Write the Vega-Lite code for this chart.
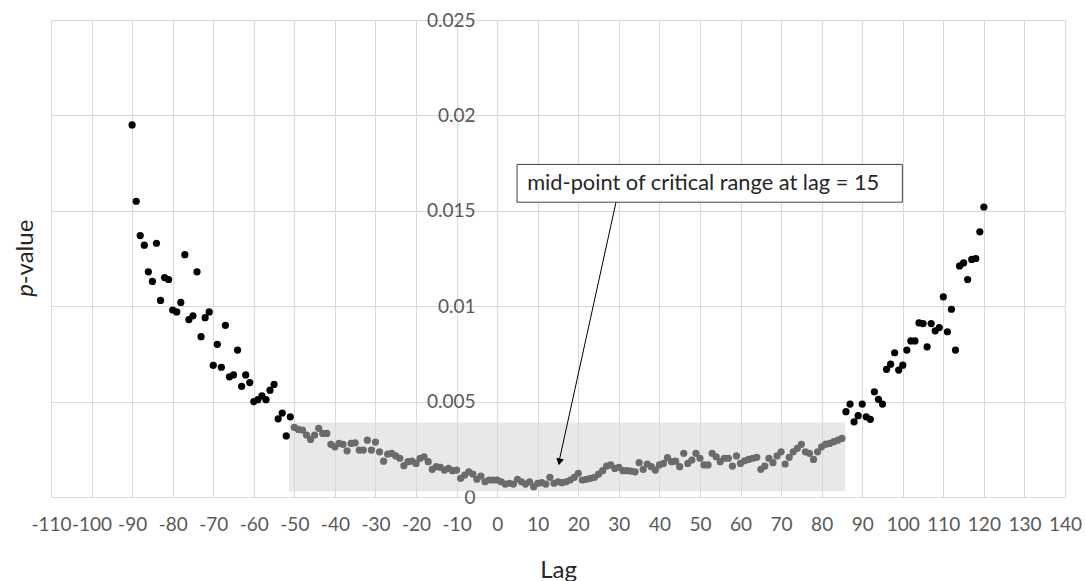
{
  "$schema": "https://vega.github.io/schema/vega-lite/v6.json",
  "width": 1014,
  "height": 477,
  "autosize": "none",
  "padding": {"left": 51, "top": 20, "right": 21, "bottom": 84},
  "background": "white",
  "config": {
    "view": {"stroke": null},
    "font": "Lato",
    "axis": {
      "labelFont": "Lato",
      "labelColor": "#595959",
      "labelFontSize": 19,
      "titleFont": "Lato",
      "titleColor": "#262626",
      "titleFontSize": 24,
      "titleFontWeight": "normal",
      "gridColor": "#d9d9d9",
      "gridWidth": 1,
      "domain": false,
      "ticks": false
    }
  },
  "datasets": {
    "pts": [
      {"lag": -90, "p": 0.0195, "zone": "outside"},
      {"lag": -89, "p": 0.0155, "zone": "outside"},
      {"lag": -88, "p": 0.0137, "zone": "outside"},
      {"lag": -87, "p": 0.0132, "zone": "outside"},
      {"lag": -86, "p": 0.0118, "zone": "outside"},
      {"lag": -85, "p": 0.0113, "zone": "outside"},
      {"lag": -84, "p": 0.0133, "zone": "outside"},
      {"lag": -83, "p": 0.0103, "zone": "outside"},
      {"lag": -82, "p": 0.0115, "zone": "outside"},
      {"lag": -81, "p": 0.0114, "zone": "outside"},
      {"lag": -80, "p": 0.0098, "zone": "outside"},
      {"lag": -79, "p": 0.0097, "zone": "outside"},
      {"lag": -78, "p": 0.0102, "zone": "outside"},
      {"lag": -77, "p": 0.0127, "zone": "outside"},
      {"lag": -76, "p": 0.0093, "zone": "outside"},
      {"lag": -75, "p": 0.0095, "zone": "outside"},
      {"lag": -74, "p": 0.0118, "zone": "outside"},
      {"lag": -73, "p": 0.0084, "zone": "outside"},
      {"lag": -72, "p": 0.0094, "zone": "outside"},
      {"lag": -71, "p": 0.0097, "zone": "outside"},
      {"lag": -70, "p": 0.0069, "zone": "outside"},
      {"lag": -69, "p": 0.008, "zone": "outside"},
      {"lag": -68, "p": 0.0068, "zone": "outside"},
      {"lag": -67, "p": 0.009, "zone": "outside"},
      {"lag": -66, "p": 0.0063, "zone": "outside"},
      {"lag": -65, "p": 0.0064, "zone": "outside"},
      {"lag": -64, "p": 0.0077, "zone": "outside"},
      {"lag": -63, "p": 0.0058, "zone": "outside"},
      {"lag": -62, "p": 0.0064, "zone": "outside"},
      {"lag": -61, "p": 0.006, "zone": "outside"},
      {"lag": -60, "p": 0.005, "zone": "outside"},
      {"lag": -59, "p": 0.0051, "zone": "outside"},
      {"lag": -58, "p": 0.0053, "zone": "outside"},
      {"lag": -57, "p": 0.0051, "zone": "outside"},
      {"lag": -56, "p": 0.0056, "zone": "outside"},
      {"lag": -55, "p": 0.0059, "zone": "outside"},
      {"lag": -54, "p": 0.0041, "zone": "outside"},
      {"lag": -53, "p": 0.0044, "zone": "outside"},
      {"lag": -52, "p": 0.0032, "zone": "outside"},
      {"lag": -51, "p": 0.0042, "zone": "outside"},
      {"lag": -50, "p": 0.00365, "zone": "critical"},
      {"lag": -49, "p": 0.00354, "zone": "critical"},
      {"lag": -48, "p": 0.00351, "zone": "critical"},
      {"lag": -47, "p": 0.00325, "zone": "critical"},
      {"lag": -46, "p": 0.00302, "zone": "critical"},
      {"lag": -45, "p": 0.00325, "zone": "critical"},
      {"lag": -44, "p": 0.0036, "zone": "critical"},
      {"lag": -43, "p": 0.00333, "zone": "critical"},
      {"lag": -42, "p": 0.00333, "zone": "critical"},
      {"lag": -41, "p": 0.00276, "zone": "critical"},
      {"lag": -40, "p": 0.00263, "zone": "critical"},
      {"lag": -39, "p": 0.00281, "zone": "critical"},
      {"lag": -38, "p": 0.00276, "zone": "critical"},
      {"lag": -37, "p": 0.00242, "zone": "critical"},
      {"lag": -36, "p": 0.00281, "zone": "critical"},
      {"lag": -35, "p": 0.00284, "zone": "critical"},
      {"lag": -34, "p": 0.00246, "zone": "critical"},
      {"lag": -33, "p": 0.00246, "zone": "critical"},
      {"lag": -32, "p": 0.00298, "zone": "critical"},
      {"lag": -31, "p": 0.00246, "zone": "critical"},
      {"lag": -30, "p": 0.00288, "zone": "critical"},
      {"lag": -29, "p": 0.00237, "zone": "critical"},
      {"lag": -28, "p": 0.00188, "zone": "critical"},
      {"lag": -27, "p": 0.00225, "zone": "critical"},
      {"lag": -26, "p": 0.00229, "zone": "critical"},
      {"lag": -25, "p": 0.00215, "zone": "critical"},
      {"lag": -24, "p": 0.00203, "zone": "critical"},
      {"lag": -23, "p": 0.00164, "zone": "critical"},
      {"lag": -22, "p": 0.00185, "zone": "critical"},
      {"lag": -21, "p": 0.00188, "zone": "critical"},
      {"lag": -20, "p": 0.00176, "zone": "critical"},
      {"lag": -19, "p": 0.00203, "zone": "critical"},
      {"lag": -18, "p": 0.00211, "zone": "critical"},
      {"lag": -17, "p": 0.00185, "zone": "critical"},
      {"lag": -16, "p": 0.00145, "zone": "critical"},
      {"lag": -15, "p": 0.00159, "zone": "critical"},
      {"lag": -14, "p": 0.00156, "zone": "critical"},
      {"lag": -13, "p": 0.00141, "zone": "critical"},
      {"lag": -12, "p": 0.0015, "zone": "critical"},
      {"lag": -11, "p": 0.00138, "zone": "critical"},
      {"lag": -10, "p": 0.00141, "zone": "critical"},
      {"lag": -9, "p": 0.00098, "zone": "critical"},
      {"lag": -8, "p": 0.00115, "zone": "critical"},
      {"lag": -7, "p": 0.00132, "zone": "critical"},
      {"lag": -6, "p": 0.0012, "zone": "critical"},
      {"lag": -5, "p": 0.00093, "zone": "critical"},
      {"lag": -4, "p": 0.0011, "zone": "critical"},
      {"lag": -3, "p": 0.0008, "zone": "critical"},
      {"lag": -2, "p": 0.00089, "zone": "critical"},
      {"lag": -1, "p": 0.00089, "zone": "critical"},
      {"lag": 0, "p": 0.00089, "zone": "critical"},
      {"lag": 1, "p": 0.0008, "zone": "critical"},
      {"lag": 2, "p": 0.00068, "zone": "critical"},
      {"lag": 3, "p": 0.00072, "zone": "critical"},
      {"lag": 4, "p": 0.00068, "zone": "critical"},
      {"lag": 5, "p": 0.00093, "zone": "critical"},
      {"lag": 6, "p": 0.0008, "zone": "critical"},
      {"lag": 7, "p": 0.00068, "zone": "critical"},
      {"lag": 8, "p": 0.0008, "zone": "critical"},
      {"lag": 9, "p": 0.00054, "zone": "critical"},
      {"lag": 10, "p": 0.00072, "zone": "critical"},
      {"lag": 11, "p": 0.00075, "zone": "critical"},
      {"lag": 12, "p": 0.00068, "zone": "critical"},
      {"lag": 13, "p": 0.00103, "zone": "critical"},
      {"lag": 14, "p": 0.00072, "zone": "critical"},
      {"lag": 15, "p": 0.0008, "zone": "critical"},
      {"lag": 16, "p": 0.00075, "zone": "critical"},
      {"lag": 17, "p": 0.0008, "zone": "critical"},
      {"lag": 18, "p": 0.00089, "zone": "critical"},
      {"lag": 19, "p": 0.00103, "zone": "critical"},
      {"lag": 20, "p": 0.00124, "zone": "critical"},
      {"lag": 21, "p": 0.00089, "zone": "critical"},
      {"lag": 22, "p": 0.00093, "zone": "critical"},
      {"lag": 23, "p": 0.00098, "zone": "critical"},
      {"lag": 24, "p": 0.00103, "zone": "critical"},
      {"lag": 25, "p": 0.0012, "zone": "critical"},
      {"lag": 26, "p": 0.00138, "zone": "critical"},
      {"lag": 27, "p": 0.00162, "zone": "critical"},
      {"lag": 28, "p": 0.00168, "zone": "critical"},
      {"lag": 29, "p": 0.0015, "zone": "critical"},
      {"lag": 30, "p": 0.00156, "zone": "critical"},
      {"lag": 31, "p": 0.00138, "zone": "critical"},
      {"lag": 32, "p": 0.00138, "zone": "critical"},
      {"lag": 33, "p": 0.00136, "zone": "critical"},
      {"lag": 34, "p": 0.00132, "zone": "critical"},
      {"lag": 35, "p": 0.0018, "zone": "critical"},
      {"lag": 36, "p": 0.00145, "zone": "critical"},
      {"lag": 37, "p": 0.00173, "zone": "critical"},
      {"lag": 38, "p": 0.00159, "zone": "critical"},
      {"lag": 39, "p": 0.00141, "zone": "critical"},
      {"lag": 40, "p": 0.00168, "zone": "critical"},
      {"lag": 41, "p": 0.00176, "zone": "critical"},
      {"lag": 42, "p": 0.00206, "zone": "critical"},
      {"lag": 43, "p": 0.00185, "zone": "critical"},
      {"lag": 44, "p": 0.00188, "zone": "critical"},
      {"lag": 45, "p": 0.00159, "zone": "critical"},
      {"lag": 46, "p": 0.00229, "zone": "critical"},
      {"lag": 47, "p": 0.00176, "zone": "critical"},
      {"lag": 48, "p": 0.00194, "zone": "critical"},
      {"lag": 49, "p": 0.00229, "zone": "critical"},
      {"lag": 50, "p": 0.00203, "zone": "critical"},
      {"lag": 51, "p": 0.00168, "zone": "critical"},
      {"lag": 52, "p": 0.00168, "zone": "critical"},
      {"lag": 53, "p": 0.00229, "zone": "critical"},
      {"lag": 54, "p": 0.00211, "zone": "critical"},
      {"lag": 55, "p": 0.00185, "zone": "critical"},
      {"lag": 56, "p": 0.00203, "zone": "critical"},
      {"lag": 57, "p": 0.00203, "zone": "critical"},
      {"lag": 58, "p": 0.00162, "zone": "critical"},
      {"lag": 59, "p": 0.00215, "zone": "critical"},
      {"lag": 60, "p": 0.00176, "zone": "critical"},
      {"lag": 61, "p": 0.0019, "zone": "critical"},
      {"lag": 62, "p": 0.00197, "zone": "critical"},
      {"lag": 63, "p": 0.00203, "zone": "critical"},
      {"lag": 64, "p": 0.00208, "zone": "critical"},
      {"lag": 65, "p": 0.00145, "zone": "critical"},
      {"lag": 66, "p": 0.00162, "zone": "critical"},
      {"lag": 67, "p": 0.00203, "zone": "critical"},
      {"lag": 68, "p": 0.0018, "zone": "critical"},
      {"lag": 69, "p": 0.00215, "zone": "critical"},
      {"lag": 70, "p": 0.00237, "zone": "critical"},
      {"lag": 71, "p": 0.00173, "zone": "critical"},
      {"lag": 72, "p": 0.00208, "zone": "critical"},
      {"lag": 73, "p": 0.00237, "zone": "critical"},
      {"lag": 74, "p": 0.00255, "zone": "critical"},
      {"lag": 75, "p": 0.00276, "zone": "critical"},
      {"lag": 76, "p": 0.00237, "zone": "critical"},
      {"lag": 77, "p": 0.00229, "zone": "critical"},
      {"lag": 78, "p": 0.00197, "zone": "critical"},
      {"lag": 79, "p": 0.00237, "zone": "critical"},
      {"lag": 80, "p": 0.00263, "zone": "critical"},
      {"lag": 81, "p": 0.00277, "zone": "critical"},
      {"lag": 82, "p": 0.00281, "zone": "critical"},
      {"lag": 83, "p": 0.0029, "zone": "critical"},
      {"lag": 84, "p": 0.00298, "zone": "critical"},
      {"lag": 85, "p": 0.00307, "zone": "critical"},
      {"lag": 86, "p": 0.00447, "zone": "outside"},
      {"lag": 87, "p": 0.00487, "zone": "outside"},
      {"lag": 88, "p": 0.00394, "zone": "outside"},
      {"lag": 89, "p": 0.00426, "zone": "outside"},
      {"lag": 90, "p": 0.00487, "zone": "outside"},
      {"lag": 91, "p": 0.0042, "zone": "outside"},
      {"lag": 92, "p": 0.00407, "zone": "outside"},
      {"lag": 93, "p": 0.00551, "zone": "outside"},
      {"lag": 94, "p": 0.00512, "zone": "outside"},
      {"lag": 95, "p": 0.00487, "zone": "outside"},
      {"lag": 96, "p": 0.00669, "zone": "outside"},
      {"lag": 97, "p": 0.00696, "zone": "outside"},
      {"lag": 98, "p": 0.00756, "zone": "outside"},
      {"lag": 99, "p": 0.00665, "zone": "outside"},
      {"lag": 100, "p": 0.00691, "zone": "outside"},
      {"lag": 101, "p": 0.0077, "zone": "outside"},
      {"lag": 102, "p": 0.00818, "zone": "outside"},
      {"lag": 103, "p": 0.00818, "zone": "outside"},
      {"lag": 104, "p": 0.00913, "zone": "outside"},
      {"lag": 105, "p": 0.00909, "zone": "outside"},
      {"lag": 106, "p": 0.00787, "zone": "outside"},
      {"lag": 107, "p": 0.00909, "zone": "outside"},
      {"lag": 108, "p": 0.00871, "zone": "outside"},
      {"lag": 109, "p": 0.00888, "zone": "outside"},
      {"lag": 110, "p": 0.01049, "zone": "outside"},
      {"lag": 111, "p": 0.00866, "zone": "outside"},
      {"lag": 112, "p": 0.00984, "zone": "outside"},
      {"lag": 113, "p": 0.0077, "zone": "outside"},
      {"lag": 114, "p": 0.01211, "zone": "outside"},
      {"lag": 115, "p": 0.01227, "zone": "outside"},
      {"lag": 116, "p": 0.0114, "zone": "outside"},
      {"lag": 117, "p": 0.01245, "zone": "outside"},
      {"lag": 118, "p": 0.0125, "zone": "outside"},
      {"lag": 119, "p": 0.0139, "zone": "outside"},
      {"lag": 120, "p": 0.0152, "zone": "outside"}
    ]
  },
  "layer": [
    {
      "data": {"values": [{"label": "critical range"}]},
      "mark": {"type": "rect", "fill": "#d9d9d9", "opacity": 0.6},
      "encoding": {
        "x": {"datum": -51.3, "type": "quantitative", "scale": {"domain": [-110, 140], "nice": false, "zero": false}},
        "x2": {"datum": 85.8},
        "y": {"datum": 0.0003, "type": "quantitative", "scale": {"domain": [0, 0.025], "nice": false},
          "axis": {"orient": "left", "title": "-value", "titleY": 231.5, "labels": false, "grid": false, "ticks": false, "domain": false, "titlePadding": 14}},
        "y2": {"datum": 0.0039}
      }
    },
    {
      "data": {"name": "pts"},
      "mark": {"type": "point", "filled": true, "opacity": 1, "size": 52, "shape": "circle"},
      "encoding": {
        "x": {"field": "lag", "type": "quantitative", "scale": {"domain": [-110, 140], "nice": false, "zero": false},
          "axis": {"title": "Lag", "values": [-110, -100, -90, -80, -70, -60, -50, -40, -30, -20, -10, 0, 10, 20, 30, 40, 50, 60, 70, 80, 90, 100, 110, 120, 130, 140],
            "labelExpr": "'' + datum.value",
            "labelOverlap": false, "labelBound": false, "labelFlush": false, "labelPadding": 18, "titlePadding": 24, "grid": true}},
        "y": {"field": "p", "type": "quantitative", "scale": {"domain": [0, 0.025], "nice": false},
          "axis": {"orient": "left", "title": null, "values": [0, 0.005, 0.01, 0.015, 0.02, 0.025], "format": "~g", "offset": -446, "labelPadding": 22, "grid": true, "labelBound": false, "labelFlush": false}},
        "color": {"field": "zone", "type": "nominal", "scale": {"domain": ["outside", "critical"], "range": ["#000000", "#6b6b6b"]}, "legend": null}
      }
    },
    {
      "data": {"values": [{"label": "annotation"}]},
      "mark": {"type": "rule", "color": "#000000", "strokeWidth": 1},
      "encoding": {
        "x": {"datum": 29.3, "type": "quantitative"},
        "y": {"datum": 0.01545, "type": "quantitative",
          "axis": {"orient": "left", "title": "p", "titleFontStyle": "italic", "titleY": 269.8, "labels": false, "grid": false, "ticks": false, "domain": false, "titlePadding": 14}},
        "x2": {"datum": 15.3},
        "y2": {"datum": 0.0019}
      }
    },
    {
      "data": {"values": [{"label": "annotation"}]},
      "mark": {"type": "point", "shape": "triangle-down", "filled": true, "color": "#000000", "opacity": 1, "size": 60, "angle": 12.4},
      "encoding": {
        "x": {"datum": 15.35, "type": "quantitative"},
        "y": {"datum": 0.00184, "type": "quantitative", "axis": null}
      }
    },
    {
      "data": {"values": [{"label": "annotation"}]},
      "mark": {"type": "rect", "fill": "#ffffff", "stroke": "#404040", "strokeWidth": 1},
      "encoding": {
        "x": {"datum": 4.9, "type": "quantitative"},
        "x2": {"datum": 99.9},
        "y": {"datum": 0.01545, "type": "quantitative", "axis": null},
        "y2": {"datum": 0.01743}
      }
    },
    {
      "data": {"values": [{"label": "mid-point of critical range at lag = 15"}]},
      "mark": {"type": "text", "align": "left", "baseline": "middle", "font": "Lato", "fontSize": 21.8, "color": "#262626"},
      "encoding": {
        "x": {"datum": 7.4, "type": "quantitative"},
        "y": {"datum": 0.01644, "type": "quantitative", "axis": null},
        "text": {"field": "label"}
      }
    }
  ],
  "resolve": {"axis": {"y": "independent"}}
}
